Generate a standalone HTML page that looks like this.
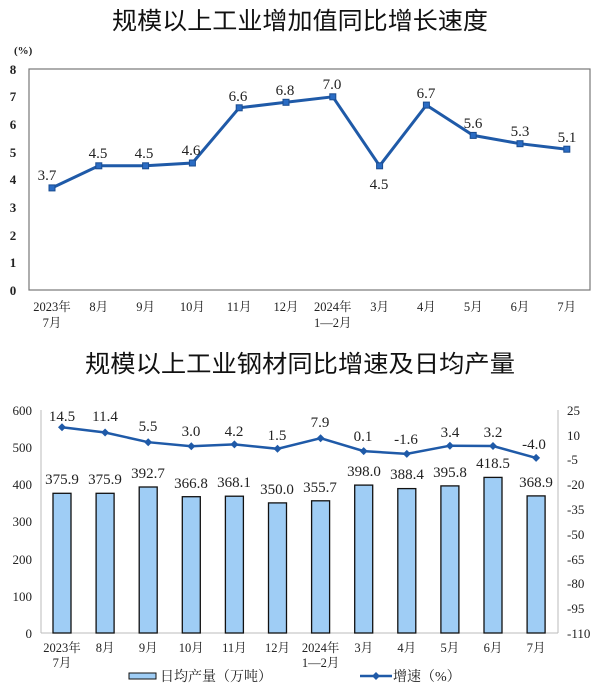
<!DOCTYPE html>
<html><head><meta charset="utf-8"><style>
html,body{margin:0;padding:0;background:#fff;}
svg{display:block;}
text{font-family:"Liberation Serif","Noto Serif CJK SC",serif;fill:#222;}
.t{font-family:"Liberation Sans","Noto Sans CJK SC",sans-serif;font-size:24px;fill:#111;}
.ax{font-size:13px;font-weight:bold;}
.xl{font-size:12.5px;text-anchor:middle;}
.dl{font-size:15px;text-anchor:middle;}
</style></head><body>
<svg width="600" height="695" viewBox="0 0 600 695">
<text class="t" x="300" y="29" text-anchor="middle" textLength="376" lengthAdjust="spacingAndGlyphs">规模以上工业增加值同比增长速度</text>
<text class="ax" x="14" y="54" style="font-size:11px">(%)</text>
<rect x="29" y="69" width="561" height="221" fill="none" stroke="#777" stroke-width="1.2"/>
<g class="ax" text-anchor="middle">
<text x="13" y="74">8</text><text x="13" y="101">7</text><text x="13" y="129">6</text><text x="13" y="157">5</text><text x="13" y="184">4</text><text x="13" y="212">3</text><text x="13" y="240">2</text><text x="13" y="267">1</text><text x="13" y="295">0</text>
</g>
<polyline fill="none" stroke="#1f5aa8" stroke-width="3" points="52,187.9 98.8,165.8 145.6,165.8 192.4,163 239.2,107.8 286,102.3 332.8,96.8 379.6,165.8 426.4,105.1 473.2,135.4 520,143.7 566.8,149.2"/>
<g fill="#2a6cc4" stroke="#1a4c90" stroke-width="1">
<rect x="49" y="184.9" width="6" height="6"/><rect x="95.8" y="162.8" width="6" height="6"/><rect x="142.6" y="162.8" width="6" height="6"/><rect x="189.4" y="160" width="6" height="6"/><rect x="236.2" y="104.8" width="6" height="6"/><rect x="283" y="99.3" width="6" height="6"/><rect x="329.8" y="93.8" width="6" height="6"/><rect x="376.6" y="162.8" width="6" height="6"/><rect x="423.4" y="102.1" width="6" height="6"/><rect x="470.2" y="132.4" width="6" height="6"/><rect x="517" y="140.7" width="6" height="6"/><rect x="563.8" y="146.2" width="6" height="6"/>
</g>
<g class="dl">
<text x="47" y="180">3.7</text><text x="98" y="158">4.5</text><text x="144" y="158">4.5</text><text x="191" y="155">4.6</text><text x="238" y="101">6.6</text><text x="285" y="95">6.8</text><text x="332" y="89">7.0</text><text x="379" y="189">4.5</text><text x="426" y="98">6.7</text><text x="473" y="128">5.6</text><text x="520" y="136">5.3</text><text x="567" y="142">5.1</text>
</g>
<g class="xl">
<text x="52" y="311">2023年</text><text x="52" y="327">7月</text><text x="98.8" y="311">8月</text><text x="145.6" y="311">9月</text><text x="192.4" y="311">10月</text><text x="239.2" y="311">11月</text><text x="286" y="311">12月</text><text x="332.8" y="311">2024年</text><text x="332.8" y="327">1—2月</text><text x="379.6" y="311">3月</text><text x="426.4" y="311">4月</text><text x="473.2" y="311">5月</text><text x="520" y="311">6月</text><text x="566.8" y="311">7月</text>
</g>

<text class="t" x="300" y="372" text-anchor="middle" textLength="430" lengthAdjust="spacingAndGlyphs">规模以上工业钢材同比增速及日均产量</text>
<line x1="41" y1="410" x2="41" y2="633" stroke="#bbb"/>
<line x1="41" y1="633" x2="558" y2="633" stroke="#bbb"/>
<line x1="558" y1="410" x2="558" y2="633" stroke="#bbb"/>
<g class="ax" text-anchor="end" style="font-weight:normal">
<text x="32" y="415">600</text><text x="32" y="452">500</text><text x="32" y="489">400</text><text x="32" y="526">300</text><text x="32" y="564">200</text><text x="32" y="601">100</text><text x="32" y="638">0</text>
</g>
<g class="ax" text-anchor="start" style="font-weight:normal">
<text x="567" y="415">25</text><text x="567" y="440">10</text><text x="567" y="464">-5</text><text x="567" y="489">-20</text><text x="567" y="514">-35</text><text x="567" y="539">-50</text><text x="567" y="564">-65</text><text x="567" y="588">-80</text><text x="567" y="613">-95</text><text x="567" y="638">-110</text>
</g>
<g fill="#9fcdf5" stroke="#111" stroke-width="1.3">
<rect x="53" y="493.3" width="18" height="139.7"/><rect x="96.1" y="493.3" width="18" height="139.7"/><rect x="139.2" y="487" width="18" height="146"/><rect x="182.3" y="496.7" width="18" height="136.3"/><rect x="225.4" y="496.2" width="18" height="136.8"/><rect x="268.5" y="502.9" width="18" height="130.1"/><rect x="311.6" y="500.8" width="18" height="132.2"/><rect x="354.7" y="485.1" width="18" height="147.9"/><rect x="397.8" y="488.6" width="18" height="144.4"/><rect x="440.9" y="485.9" width="18" height="147.1"/><rect x="484" y="477.4" width="18" height="155.6"/><rect x="527.1" y="495.9" width="18" height="137.1"/>
</g>
<g class="dl">
<text x="62" y="484">375.9</text><text x="105" y="484">375.9</text><text x="148" y="478">392.7</text><text x="191" y="488">366.8</text><text x="234" y="487">368.1</text><text x="277" y="494">350.0</text><text x="320" y="492">355.7</text><text x="364" y="476">398.0</text><text x="407" y="479">388.4</text><text x="450" y="477">395.8</text><text x="493" y="468">418.5</text><text x="536" y="487">368.9</text>
</g>
<polyline fill="none" stroke="#1f5aa8" stroke-width="2.5" points="62,427.3 105.1,432.5 148.2,442.2 191.3,446.3 234.4,444.4 277.5,448.8 320.6,438.2 363.7,451.1 406.8,453.9 449.9,445.7 493,446 536.1,457.9"/>
<g fill="#1f5aa8">
<path d="M62,423.3l4,4l-4,4l-4,-4z"/><path d="M105.1,428.5l4,4l-4,4l-4,-4z"/><path d="M148.2,438.2l4,4l-4,4l-4,-4z"/><path d="M191.3,442.3l4,4l-4,4l-4,-4z"/><path d="M234.4,440.4l4,4l-4,4l-4,-4z"/><path d="M277.5,444.8l4,4l-4,4l-4,-4z"/><path d="M320.6,434.2l4,4l-4,4l-4,-4z"/><path d="M363.7,447.1l4,4l-4,4l-4,-4z"/><path d="M406.8,449.9l4,4l-4,4l-4,-4z"/><path d="M449.9,441.7l4,4l-4,4l-4,-4z"/><path d="M493,442l4,4l-4,4l-4,-4z"/><path d="M536.1,453.9l4,4l-4,4l-4,-4z"/>
</g>
<g class="dl">
<text x="62" y="421">14.5</text><text x="105" y="421">11.4</text><text x="148" y="431">5.5</text><text x="191" y="436">3.0</text><text x="234" y="436">4.2</text><text x="277" y="440">1.5</text><text x="320" y="427">7.9</text><text x="363" y="441">0.1</text><text x="406" y="444">-1.6</text><text x="450" y="437">3.4</text><text x="493" y="437">3.2</text><text x="534" y="449">-4.0</text>
</g>
<g class="xl">
<text x="62" y="652">2023年</text><text x="62" y="667">7月</text><text x="105.1" y="652">8月</text><text x="148.2" y="652">9月</text><text x="191.3" y="652">10月</text><text x="234.4" y="652">11月</text><text x="277.5" y="652">12月</text><text x="320.6" y="652">2024年</text><text x="320.6" y="667">1—2月</text><text x="363.7" y="652">3月</text><text x="406.8" y="652">4月</text><text x="449.9" y="652">5月</text><text x="493" y="652">6月</text><text x="536.1" y="652">7月</text>
</g>
<rect x="129" y="673" width="27" height="6" fill="#9fcdf5" stroke="#111"/>
<text x="160" y="681" style="font-size:14px">日均产量（万吨）</text>
<line x1="360" y1="676" x2="392" y2="676" stroke="#1f5aa8" stroke-width="2.5"/>
<path d="M376,672l4,4l-4,4l-4,-4z" fill="#1f5aa8"/>
<text x="393" y="681" style="font-size:14px">增速（%）</text>
</svg>
</body></html>
